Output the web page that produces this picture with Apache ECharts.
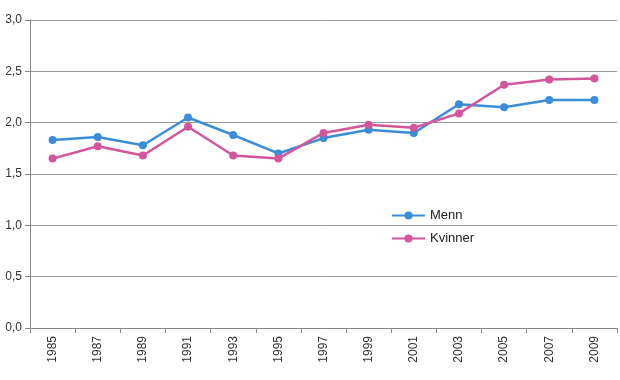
<!DOCTYPE html>
<html><head><meta charset="utf-8">
<script src="https://cdn.jsdelivr.net/npm/echarts@6/dist/echarts.min.js"></script>
<style>html,body{margin:0;padding:0;background:#fff}#c{width:620px;height:380px}</style>
</head><body><div id="c"></div>
<script>
var years = ['1985','1987','1989','1991','1993','1995','1997','1999','2001','2003','2005','2007','2009'];
var menn = [1.83,1.86,1.78,2.05,1.88,1.70,1.85,1.93,1.90,2.18,2.15,2.22,2.22];
var kvinner = [1.65,1.77,1.68,1.96,1.68,1.65,1.90,1.98,1.95,2.09,2.37,2.42,2.43];
var yTicks = ['0,0','0,5','1,0','1,5','2,0','2,5','3,0'];
var chart = echarts.init(document.getElementById('c'));
chart.setOption({
  animation:false,
  grid:{left:30,right:3,top:20,bottom:52,containLabel:false},
  legend:{orient:'vertical',left:386,top:204,itemWidth:33,itemHeight:10,itemGap:10,
    textStyle:{fontFamily:'Liberation Sans, Arial',fontSize:13,color:'#222'},
    data:['Menn','Kvinner']},
  xAxis:{type:'category',data:years,boundaryGap:true,
    axisLine:{lineStyle:{color:'#888',width:1}},
    axisTick:{show:true,length:5,lineStyle:{color:'#888'}},
    axisLabel:{rotate:90,fontFamily:'Liberation Sans, Arial',fontSize:12,color:'#333',margin:8}},
  yAxis:{type:'value',min:0,max:3,interval:0.5,
    axisLine:{show:true,lineStyle:{color:'#888',width:1}},
    axisTick:{show:true,length:5,lineStyle:{color:'#888'}},
    splitLine:{lineStyle:{color:'#999',width:1}},
    axisLabel:{fontFamily:'Liberation Sans, Arial',fontSize:12,color:'#333',margin:8,
      formatter:function(v){return yTicks[Math.round(v*2)];}}},
  series:[
    {name:'Menn',type:'line',data:menn,symbol:'circle',symbolSize:8,
      lineStyle:{color:'#3a8dd6',width:2.5},itemStyle:{color:'#3a8dd6'}},
    {name:'Kvinner',type:'line',data:kvinner,symbol:'circle',symbolSize:8,
      lineStyle:{color:'#d4559a',width:2.5},itemStyle:{color:'#d4559a'}}
  ]
});
</script></body></html>
